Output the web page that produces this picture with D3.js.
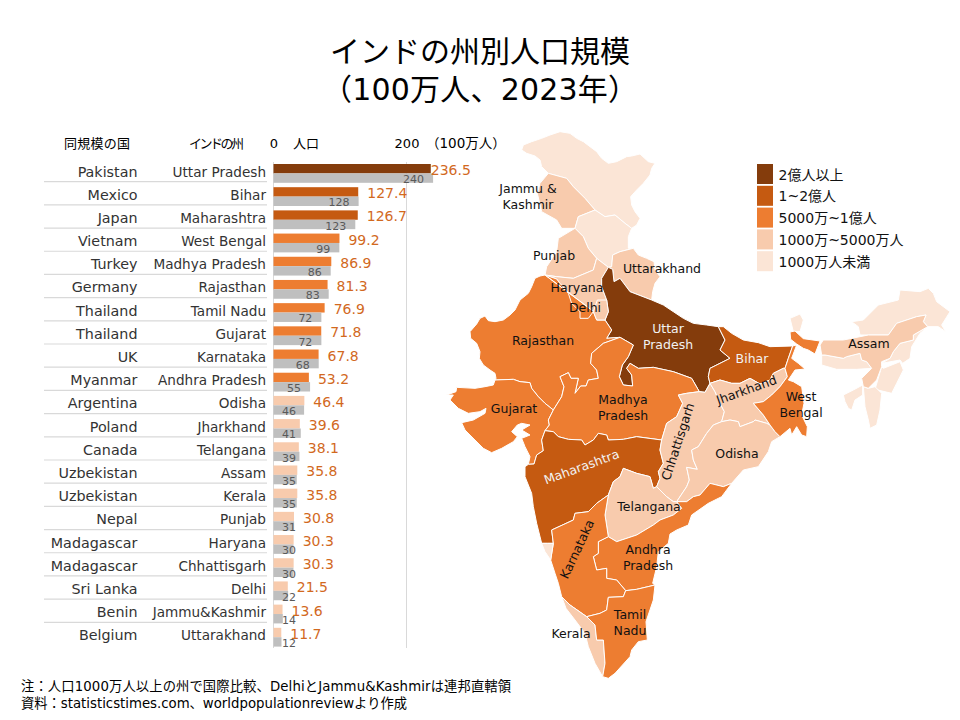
<!DOCTYPE html>
<html lang="ja">
<head>
<meta charset="UTF-8">
<title>インドの州別人口規模</title>
<script src="https://cdnjs.cloudflare.com/ajax/libs/d3/7.8.5/d3.min.js"></script>
<style>
  html, body { margin: 0; background: #fff; }
  svg text { font-family: "DejaVu Sans", "Noto Sans CJK JP", sans-serif; }
</style>
</head>
<body>
<svg id="chart" width="960" height="720"></svg>
<script>
// table data
const states = ["Uttar Pradesh","Bihar","Maharashtra","West Bengal","Madhya Pradesh","Rajasthan","Tamil Nadu","Gujarat","Karnataka","Andhra Pradesh","Odisha","Jharkhand","Telangana","Assam","Kerala","Punjab","Haryana","Chhattisgarh","Delhi","Jammu&Kashmir","Uttarakhand"];
const population = [236.5,127.4,126.7,99.2,86.9,81.3,76.9,71.8,67.8,53.2,46.4,39.6,38.1,35.8,35.8,30.8,30.3,30.3,21.5,13.6,11.7];
const countries = ["Pakistan","Mexico","Japan","Vietnam","Turkey","Germany","Thailand","Thailand","UK","Myanmar","Argentina","Poland","Canada","Uzbekistan","Uzbekistan","Nepal","Madagascar","Madagascar","Sri Lanka","Benin","Belgium"];
const countryPop = [240,128,123,99,86,83,72,72,68,55,46,41,39,35,35,31,30,30,22,14,12];
const axisTicks = [0,200];

const classBreaks = [10,50,100,200];
const classColors = ["#FBE5D6","#F8CBAD","#ED7D31","#C55A11","#843C0C"];
const legendLabels = ["2億人以上","1~2億人","5000万~1億人","1000万~5000万人","1000万人未満"];

// state borders in a map grid (3 grid units = 1 px)
const borders = {
  jkLadakh: [[265,130],[320,145],[340,170],[375,205],[405,240]],
  ladakhHimachal: [[405,240],[435,260],[465,255],[495,280],[515,295]],
  ladakhFree: [[515,295],[530,285],[540,265],[525,245],[515,225],[512,200],[530,180],[550,160],[570,135],[575,115],[585,100],[565,95],[540,72],[515,78],[500,80],[470,95],[445,100],[425,85],[410,65],[390,50],[370,35],[350,25],[330,10],[300,5],[270,15],[245,25],[215,35],[190,45],[185,60],[200,70],[225,78],[240,90],[245,110],[265,130]],
  jkFree: [[265,130],[240,160],[232,190],[245,245],[290,270],[305,295],[345,295]],
  jkHimachal: [[345,295],[355,260],[405,240]],
  himachalFree: [[515,295],[505,320],[505,355],[520,355]],
  himachalUk: [[520,355],[480,365],[458,375],[455,410],[445,412]],
  himachalPunjab: [[345,295],[370,320],[385,355],[410,385]],
  himachalHaryana: [[410,385],[445,412]],
  punjabFree: [[345,295],[295,325],[290,365],[260,410],[255,435]],
  punjabHaryana: [[255,435],[290,440],[340,445],[400,420],[410,385]],
  rajHaryana: [[255,435],[290,447],[300,460],[325,490],[335,520],[360,545],[360,565],[385,565],[400,545],[410,570],[435,570]],
  haryanaUp: [[445,412],[425,445],[425,470],[440,510],[445,545],[435,570]],
  ukFree: [[520,355],[535,375],[560,385],[582,395],[585,420],[600,440],[585,460],[578,485],[575,510]],
  ukUp: [[575,510],[510,485],[480,445],[462,455],[458,418],[445,412]],
  upFree: [[575,510],[610,525],[640,545],[670,565],[700,580],[740,585],[775,590]],
  upBihar: [[775,590],[795,630],[780,660],[810,685],[750,715],[745,740],[750,760]],
  upChh: [[750,760],[735,787],[718,785]],
  upMp: [[718,785],[695,745],[640,725],[580,712],[535,715],[510,700],[500,715],[515,735],[518,768],[490,765],[478,740],[487,705],[505,680],[520,645],[480,622]],
  upRaj: [[480,622],[440,625],[455,600],[435,570]],
  rajFree: [[255,435],[240,438],[225,445],[215,470],[205,490],[180,510],[165,540],[150,555],[130,570],[105,575],[85,572],[75,558],[60,565],[50,582],[30,605],[32,625],[50,640],[60,665],[58,685],[70,705],[90,720],[105,730],[108,745],[105,750]],
  rajGuj: [[105,750],[160,748],[180,755],[210,758],[215,775],[235,800],[255,820],[280,840]],
  rajMp: [[280,840],[305,800],[312,770],[300,740],[325,728],[333,745],[355,745],[345,790],[362,768],[378,768],[385,750],[415,745],[410,720],[392,700],[395,670],[430,640],[480,622]],
  gujCoast: [[105,750],[100,765],[75,770],[45,775],[-10,772],[-12,785],[-40,795],[-20,795],[-30,810],[-5,835],[25,850],[60,845],[78,835],[75,850],[40,870],[5,878],[15,900],[45,930],[70,955],[95,968],[125,955],[160,935],[172,920],[155,905],[172,885],[185,880],[210,885],[185,900],[210,915],[185,925],[195,950],[210,980],[205,1003]],
  gujMaha: [[205,1003],[222,1002],[230,975],[250,962],[245,930],[255,902]],
  gujMp: [[255,902],[268,885],[265,870],[280,840]],
  mpMaha: [[255,902],[280,905],[295,920],[325,928],[365,930],[375,945],[400,930],[415,910],[440,915],[445,930],[490,928],[530,920],[605,930]],
  mpChh: [[605,930],[620,880],[650,860],[668,820],[655,795],[680,790],[718,785]],
  mahaCoast: [[205,1003],[195,1010],[195,1040],[205,1065],[215,1090],[220,1130],[230,1180],[245,1240]],
  mahaGoa: [[245,1240],[262,1240],[280,1240]],
  mahaKar: [[280,1240],[275,1200],[340,1170],[345,1150],[385,1145],[410,1120],[445,1095]],
  mahaTel: [[445,1095],[460,1055],[480,1040],[490,1015],[530,1030],[570,1040],[580,1075],[590,1070]],
  mahaChh: [[590,1070],[600,1045],[595,1025],[610,1000],[600,960],[605,930]],
  jharChh: [[750,760],[765,785],[780,820],[793,845],[785,875]],
  chhOdisha: [[785,875],[760,885],[740,910],[715,950],[695,960],[700,990],[712,1018],[680,1012],[688,1050],[680,1070],[650,1115]],
  chhTel: [[650,1115],[640,1115],[620,1100],[590,1070]],
  biharFree: [[775,590],[790,590],[815,610],[850,630],[895,638],[930,650],[998,648]],
  biharWb: [[998,648],[985,685],[975,715]],
  biharJhar: [[975,715],[970,715],[940,730],[930,750],[900,762],[870,745],[840,760],[815,760],[780,750],[750,760]],
  jharWb: [[975,715],[982,740],[960,770],[935,795],[910,815],[880,820],[910,855],[930,885]],
  jharOdisha: [[785,875],[810,870],[835,875],[840,890],[880,875],[885,870],[920,880],[930,885]],
  odiWb: [[930,885],[945,905],[960,920]],
  odiCoast: [[960,920],[935,935],[925,965],[895,1010],[850,1020],[815,1060]],
  odiAp: [[650,1115],[680,1115],[700,1100],[720,1095],[750,1060],[790,1070],[815,1060]],
  wbFree: [[998,648],[1010,645],[995,685],[1015,700],[1035,717],[1005,720],[985,750],[1000,755],[1025,770],[1032,820],[1025,855],[1042,890],[1040,920],[1025,915],[1010,890],[995,915],[990,895],[960,920]],
  telAp: [[650,1115],[665,1135],[640,1155],[600,1170],[580,1185],[530,1215],[470,1235],[445,1220]],
  telKar: [[445,1095],[435,1155],[445,1220]],
  apCoast: [[815,1060],[785,1100],[745,1120],[695,1155],[685,1185],[650,1200],[630,1212],[625,1240],[595,1265],[590,1310],[578,1360],[585,1365]],
  apTn: [[585,1365],[530,1378],[497,1382]],
  karAp: [[445,1220],[415,1235],[415,1270],[400,1280],[410,1320],[440,1315],[440,1345],[470,1350],[497,1382]],
  goaKar: [[280,1240],[272,1290]],
  goaCoast: [[245,1240],[255,1265],[272,1290]],
  karCoast: [[272,1290],[285,1330],[295,1360],[305,1400]],
  karKerala: [[305,1400],[330,1425],[380,1460]],
  karTn: [[380,1460],[420,1450],[440,1440],[445,1402],[490,1400],[497,1382]],
  keralaTn: [[380,1460],[405,1485],[410,1530],[430,1530],[435,1600],[428,1640]],
  keralaCoast: [[428,1640],[405,1600],[385,1550],[375,1510],[345,1470],[318,1435],[305,1400]],
  tnCoast: [[428,1640],[445,1645],[465,1630],[510,1580],[515,1560],[535,1535],[562,1530],[558,1475],[580,1410],[585,1365]]
};

// each state is a chain of borders, "-" walks a border backwards
const stateChains = {
  "Ladakh": ["ladakhHimachal","ladakhFree","jkLadakh"],
  "Jammu&Kashmir": ["jkLadakh","-jkHimachal","-jkFree"],
  "Himachal": ["jkHimachal","ladakhHimachal","himachalFree","himachalUk","-himachalHaryana","-himachalPunjab"],
  "Punjab": ["punjabFree","punjabHaryana","-himachalPunjab"],
  "Haryana": ["punjabHaryana","himachalHaryana","haryanaUp","-rajHaryana"],
  "Uttarakhand": ["-himachalUk","ukFree","ukUp"],
  "Uttar Pradesh": ["-ukUp","upFree","upBihar","upChh","upMp","upRaj","-haryanaUp"],
  "Rajasthan": ["rajFree","rajGuj","rajMp","upRaj","rajHaryana"],
  "Gujarat": ["gujCoast","gujMaha","gujMp","-rajGuj"],
  "Madhya Pradesh": ["rajMp","-upMp","-mpChh","-mpMaha","gujMp"],
  "Maharashtra": ["mahaCoast","mahaGoa","mahaKar","mahaTel","mahaChh","-mpMaha","-gujMaha"],
  "Chhattisgarh": ["mpChh","-upChh","jharChh","chhOdisha","chhTel","mahaChh"],
  "Bihar": ["biharFree","biharWb","biharJhar","-upBihar"],
  "Jharkhand": ["-biharJhar","jharWb","-jharOdisha","-jharChh"],
  "Odisha": ["jharOdisha","odiWb","odiCoast","-odiAp","-chhOdisha"],
  "West Bengal": ["-biharWb","wbFree","-odiWb","-jharWb"],
  "Telangana": ["mahaTel","-chhTel","telAp","-telKar"],
  "Andhra Pradesh": ["-telAp","odiAp","apCoast","apTn","-karAp"],
  "Karnataka": ["-mahaKar","goaKar","karCoast","karKerala","karTn","-karAp","-telKar"],
  "Goa": ["-mahaGoa","goaCoast","-goaKar"],
  "Kerala": ["karKerala","keralaTn","keralaCoast"],
  "Tamil Nadu": ["-karTn","keralaTn","tnCoast","apTn"]
};

// pieces that share no border with the rest
const looseRings = [
  { name: "Delhi", ring: [[412,510],[440,510],[445,545],[435,570],[410,570],[400,545]] },
  { name: "Sikkim", ring: [[990,565],[1020,552],[1030,570],[1020,605],[1000,605]] },
  { name: "West Bengal", ring: [[990,606],[1005,603],[1030,626],[1080,633],[1065,672],[1045,660],[1030,655],[1010,642],[992,628]] },
  { name: "Arunachal", ring: [[1175,575],[1210,570],[1255,525],[1315,510],[1320,480],[1380,485],[1405,475],[1420,490],[1430,515],[1470,545],[1445,585],[1457,605],[1435,590],[1403,590],[1390,575],[1398,555],[1370,560],[1310,580],[1285,615],[1225,615],[1200,615],[1195,590]] },
  { name: "Meghalaya", ring: [[1085,675],[1095,675],[1150,685],[1160,680],[1200,670],[1205,690],[1220,695],[1235,715],[1190,718],[1130,718],[1085,705]] },
  { name: "Nagaland", ring: [[1403,590],[1360,615],[1360,630],[1320,640],[1300,665],[1290,685],[1265,700],[1320,690],[1328,700],[1350,685],[1355,650],[1380,610]] },
  { name: "Manipur", ring: [[1270,715],[1320,695],[1330,720],[1310,760],[1295,790],[1245,778],[1265,710]] },
  { name: "Mizoram", ring: [[1210,770],[1225,775],[1245,770],[1265,790],[1260,840],[1250,885],[1230,895],[1225,870],[1215,830]] },
  { name: "Tripura", ring: [[1150,795],[1180,780],[1208,765],[1208,795],[1185,810],[1175,840],[1165,835],[1155,815]] },
  { name: "Assam", ring: [[1080,645],[1090,630],[1150,630],[1225,615],[1285,615],[1310,580],[1370,560],[1398,555],[1390,575],[1403,590],[1360,615],[1360,630],[1320,640],[1300,665],[1290,685],[1265,695],[1265,710],[1250,750],[1225,775],[1210,770],[1205,745],[1235,715],[1220,695],[1205,690],[1200,670],[1160,680],[1150,685],[1095,675],[1085,675]] }
];

const mapLabels = [
  { lines: ["Jammu &","Kashmir"], at: [528,193] },
  { lines: ["Punjab"], at: [554,260] },
  { lines: ["Uttarakhand"], at: [662,273] },
  { lines: ["Haryana"], at: [577,292] },
  { lines: ["Delhi"], at: [585,312] },
  { lines: ["Uttar","Pradesh"], at: [668,333], light: true },
  { lines: ["Rajasthan"], at: [543,345] },
  { lines: ["Bihar"], at: [752,363], light: true },
  { lines: ["Assam"], at: [869,348] },
  { lines: ["West","Bengal"], at: [801,401] },
  { lines: ["Jharkhand"], at: [748,394], angle: -20 },
  { lines: ["Gujarat"], at: [514,413] },
  { lines: ["Madhya","Pradesh"], at: [623,404] },
  { lines: ["Chhattisgarh"], at: [682,443], angle: -72 },
  { lines: ["Odisha"], at: [737,458] },
  { lines: ["Maharashtra"], at: [583,471], angle: -20, light: true },
  { lines: ["Telangana"], at: [649,511] },
  { lines: ["Karnataka"], at: [581,551], angle: -65 },
  { lines: ["Andhra","Pradesh"], at: [648,554] },
  { lines: ["Tamil","Nadu"], at: [630,619] },
  { lines: ["Kerala"], at: [571,638] }
];

const svg = d3.select("#chart");
const bandTop = 161, bandBottom = 648;

const color = d3.scaleThreshold().domain(classBreaks).range(classColors);
const popOf = new Map(states.map((s, i) => [s, population[i]]));

const x = d3.scaleLinear().domain([0, 200]).range([273.5, 406.5]);
const y = d3.scaleBand().domain(states).range([bandTop, bandBottom]);
const barH = 9.4;

// map
function chainRing(chain) {
  const pts = [];
  chain.forEach(key => {
    const back = key[0] === "-";
    const arc = borders[back ? key.slice(1) : key];
    pts.push(...(back ? arc.slice().reverse() : arc));
  });
  return pts;
}
const mapFeatures = Object.keys(stateChains).map(name => ({ name, ring: chainRing(stateChains[name]) }))
  .concat(looseRings)
  .map(d => ({ type: "Feature", properties: { name: d.name }, geometry: { type: "Polygon", coordinates: [d.ring.concat([d.ring[0]])] } }));

const mapPath = d3.geoPath(d3.geoIdentity().scale(1 / 3).translate([460, 130]));
svg.append("g").selectAll("path").data(mapFeatures).join("path")
  .attr("d", mapPath)
  .attr("fill", d => color(popOf.get(d.properties.name) || 0))
  .attr("stroke", "#fff").attr("stroke-width", 1).attr("stroke-linejoin", "round");

// title
svg.append("text").attr("x", 480).attr("y", 62).attr("text-anchor", "middle")
  .attr("font-size", 30).attr("fill", "#000").text("インドの州別人口規模");
svg.append("text").attr("x", 480).attr("y", 100).attr("text-anchor", "middle")
  .attr("font-size", 30).attr("textLength", 316).attr("fill", "#000").text("（100万人、2023年）");

// table head
const head = svg.append("g").attr("font-size", 13).attr("fill", "#000");
head.append("text").attr("x", 64).attr("y", 148).attr("textLength", 66).text("同規模の国");
head.append("text").attr("x", 189).attr("y", 148).attr("textLength", 55).text("インドの州");
head.append("text").attr("x", 293).attr("y", 148).text("人口");
head.append("text").attr("x", 426).attr("y", 148).attr("font-size", 13.5).text("（100万人）");

svg.append("g").attr("transform", "translate(0,148)")
  .call(d3.axisTop(x).tickValues(axisTicks).tickSize(0).tickPadding(0))
  .call(g => g.select(".domain").remove())
  .call(g => g.selectAll("text").attr("font-size", 13).attr("fill", "#000").attr("font-family", null));

// grid and row rules
svg.append("g").selectAll("line").data(axisTicks).join("line")
  .attr("x1", d => x(d)).attr("x2", d => x(d))
  .attr("y1", bandTop + 1).attr("y2", bandBottom)
  .attr("stroke", "#D9D9D9").attr("stroke-width", 1);
svg.append("g").selectAll("line").data(states.slice(0, -1)).join("line")
  .attr("x1", 44).attr("x2", 267)
  .attr("y1", d => y(d) + y.bandwidth() - 2.5)
  .attr("y2", d => y(d) + y.bandwidth() - 2.5)
  .attr("stroke", "#D9D9D9").attr("stroke-width", 1.2);

// rows
const rows = svg.append("g").selectAll("g").data(states).join("g")
  .attr("transform", d => `translate(0,${y(d)})`);

rows.append("text").attr("x", 137.5).attr("y", 15.5).attr("text-anchor", "end")
  .attr("font-size", 14.3).attr("fill", "#333").text((d, i) => countries[i]);
rows.append("text").attr("x", 266).attr("y", 15.5).attr("text-anchor", "end")
  .attr("font-size", 13.6).attr("fill", "#333").text(d => d);

rows.append("rect").attr("x", x(0)).attr("y", 3)
  .attr("width", (d, i) => x(population[i]) - x(0)).attr("height", barH)
  .attr("fill", (d, i) => color(population[i]));
rows.append("rect").attr("x", x(0)).attr("y", 3 + barH)
  .attr("width", (d, i) => x(countryPop[i]) - x(0)).attr("height", barH)
  .attr("fill", "#BFBFBF");

rows.append("text").attr("y", 14).attr("font-size", 14).attr("fill", "#D2691E")
  .attr("x", (d, i) => x(population[i]) + (i === 0 ? 0 : 9))
  .text((d, i) => d3.format(".1f")(population[i]));
rows.append("text").attr("y", 22.3).attr("font-size", 11).attr("fill", "#595959")
  .attr("text-anchor", "end")
  .attr("x", (d, i) => Math.max(x(countryPop[i]) - 9, 296))
  .text((d, i) => countryPop[i]);

// map labels
const labels = svg.append("g").attr("font-size", 12.5).attr("text-anchor", "middle");
mapLabels.forEach(d => {
  const t = labels.append("text")
    .attr("transform", `translate(${d.at[0]},${d.at[1]}) rotate(${d.angle || 0})`)
    .attr("fill", d.light ? "#F2F2F2" : "#111");
  d.lines.forEach((line, i) => t.append("tspan").attr("x", 0).attr("y", i * 16).text(line));
});

// legend
const legendY = d3.scaleBand().domain(legendLabels).range([163, 272]);
const legend = svg.append("g").selectAll("g").data(legendLabels).join("g")
  .attr("transform", d => `translate(757,${legendY(d)})`);
legend.append("rect").attr("width", 16).attr("height", legendY.bandwidth() - 1.8)
  .attr("y", 1).attr("fill", (d, i) => classColors[classColors.length - 1 - i]);
legend.append("text").attr("x", 21.5).attr("y", 16.5).attr("font-size", 14).attr("fill", "#111").text(d => d);

// notes
const notes = svg.append("g").attr("font-size", 13.3).attr("fill", "#000");
notes.append("text").attr("x", 21).attr("y", 691).attr("textLength", 490).text("注：人口1000万人以上の州で国際比較、DelhiとJammu&Kashmirは連邦直轄領");
notes.append("text").attr("x", 21).attr("y", 708).attr("textLength", 386).text("資料：statisticstimes.com、worldpopulationreviewより作成");
</script>
</body>
</html>
